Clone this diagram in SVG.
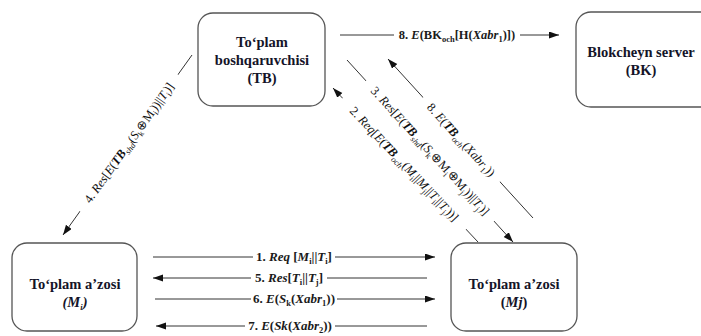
<svg xmlns="http://www.w3.org/2000/svg" width="701" height="336" viewBox="0 0 701 336">
<style>
.box{fill:#fff;stroke:#555;stroke-width:1.3}
.nt{font-family:"Liberation Serif",serif;font-weight:bold;font-size:14.5px;fill:#141428;text-anchor:middle}
.ln{stroke:#333;stroke-width:1;fill:none}
.lb{font-family:"Liberation Serif",serif;font-size:12.5px;fill:#111;text-anchor:middle}
.hb{font-family:"Liberation Serif",serif;font-size:13px;font-weight:bold;fill:#1a1a1a;text-anchor:middle}
.h8{font-size:12.5px}
.i{font-style:italic}
.s{font-size:8.5px;baseline-shift:-3px}
.bg{fill:#fff}
</style>
<defs>
<marker id="ah" markerUnits="userSpaceOnUse" markerWidth="11" markerHeight="8" refX="10" refY="3.5" orient="auto">
<path d="M0,0 L10,3.5 L0,7 z" fill="#111"/>
</marker>
</defs>
<g id="connectors">
<line class="ln" x1="340" y1="35" x2="559" y2="35" marker-end="url(#ah)"/>
<line class="ln" x1="192" y1="55" x2="63" y2="235" marker-end="url(#ah)"/>
<line class="ln" x1="347" y1="60" x2="513" y2="242" marker-end="url(#ah)"/>
<line class="ln" x1="478" y1="242" x2="333" y2="88" marker-end="url(#ah)"/>
<line class="ln" x1="533" y1="218" x2="388" y2="59" marker-end="url(#ah)"/>
<line class="ln" x1="153" y1="257" x2="435" y2="257" marker-end="url(#ah)"/>
<line class="ln" x1="427" y1="278" x2="153" y2="278" marker-end="url(#ah)"/>
<line class="ln" x1="155" y1="299" x2="435" y2="299" marker-end="url(#ah)"/>
<line class="ln" x1="427" y1="326" x2="156" y2="326" marker-end="url(#ah)"/>

<g transform="translate(457,35)"><rect class="bg" x="-63" y="-7" width="126" height="14"/>
<text class="hb h8" y="4">8. <tspan class="i">E</tspan>(BK<tspan class="s">och</tspan><tspan>[H(</tspan><tspan class="i">Xabr</tspan><tspan class="s">1</tspan>)])</text></g>

<g transform="translate(294,257)"><rect class="bg" x="-41" y="-7" width="82" height="14"/>
<text class="hb" y="4">1. <tspan class="i">Req</tspan> [<tspan class="i">M</tspan><tspan class="s">i</tspan>||<tspan class="i">T</tspan><tspan class="s">i</tspan>]</text></g>

<g transform="translate(289,278)"><rect class="bg" x="-38" y="-7" width="76" height="14"/>
<text class="hb" y="4">5. <tspan class="i">Res</tspan>[<tspan class="i">T</tspan><tspan class="s">i</tspan>||<tspan class="i">T</tspan><tspan class="s">j</tspan>]</text></g>

<g transform="translate(294,299)"><rect class="bg" x="-43" y="-7" width="86" height="14"/>
<text class="hb" y="4">6. <tspan class="i">E</tspan>(<tspan class="i">S</tspan><tspan class="s">k</tspan>(<tspan class="i">Xabr</tspan><tspan class="s">1</tspan>))</text></g>

<g transform="translate(290,326)"><rect class="bg" x="-45" y="-7" width="90" height="14"/>
<text class="hb" y="4">7. <tspan class="i">E</tspan>(<tspan class="i">Sk</tspan>(<tspan class="i">Xabr</tspan><tspan class="s">2</tspan>))</text></g>

<g transform="translate(129,143) rotate(-54.4)"><rect class="bg" x="-84" y="-7" width="168" height="14"/>
<text class="lb" y="4">4. <tspan class="i">Res</tspan>[<tspan class="i">E</tspan>(<tspan class="i" font-weight="bold">TB</tspan><tspan class="s i">shd</tspan>(<tspan class="i">S</tspan><tspan class="s">k</tspan>⊕M<tspan class="s">i</tspan>))||<tspan class="i">T</tspan><tspan class="s">i</tspan>)]</text></g>

<g transform="translate(430,151) rotate(47.6)"><rect class="bg" x="-95" y="-7" width="190" height="14"/>
<text class="lb" y="4">3. <tspan class="i">Res</tspan>[<tspan class="i">E</tspan>(<tspan class="i" font-weight="bold">TB</tspan><tspan class="s i">shd</tspan>(<tspan class="i">S</tspan><tspan class="s">k</tspan>⊕M<tspan class="s">i</tspan>⊕M<tspan class="s">j</tspan>))||<tspan class="i">T</tspan><tspan class="s">j</tspan>)]</text></g>

<g transform="translate(404,164) rotate(46.7)"><rect class="bg" x="-90" y="-7" width="180" height="14"/>
<text class="lb" y="4">2. <tspan class="i">Req</tspan>[<tspan class="i">E</tspan>(<tspan class="i" font-weight="bold">TB</tspan><tspan class="s i">och</tspan>(<tspan class="i">M</tspan><tspan class="s">i</tspan>||<tspan class="i">M</tspan><tspan class="s">j</tspan>||<tspan class="i">T</tspan><tspan class="s">i</tspan>||<tspan class="i">T</tspan><tspan class="s">j</tspan>))]</text></g>

<g transform="translate(461,140) rotate(47.6)"><rect class="bg" x="-57" y="-7" width="114" height="14"/>
<text class="lb" y="4">8. <tspan class="i">E</tspan>(<tspan class="i" font-weight="bold">TB</tspan><tspan class="s i">och</tspan>(<tspan class="i">Xabr</tspan><tspan class="s">1</tspan>))</text></g>
</g>

<g id="TB">
<rect class="box" x="198" y="13" width="127" height="93" rx="15"/>
<text class="nt" x="262" y="47">To‘plam</text>
<text class="nt" x="262" y="65">boshqaruvchisi</text>
<text class="nt" x="262" y="83">(TB)</text>
</g>
<g id="BK">
<rect class="box" x="576" y="12" width="140" height="95" rx="15"/>
<text class="nt" x="641" y="57">Blokcheyn server</text>
<text class="nt" x="641" y="75">(BK)</text>
</g>
<g id="Mi">
<rect class="box" x="12" y="243" width="125" height="88" rx="15"/>
<text class="nt" x="75" y="289">To‘plam a’zosi</text>
<text class="nt" x="75" y="307"><tspan class="i">(M</tspan><tspan class="s i">i</tspan><tspan class="i">)</tspan></text>
</g>
<g id="Mj">
<rect class="box" x="451" y="243" width="126" height="88" rx="15"/>
<text class="nt" x="514" y="289">To‘plam a’zosi</text>
<text class="nt" x="514" y="307">(<tspan class="i">Mj</tspan>)</text>
</g>
</svg>
